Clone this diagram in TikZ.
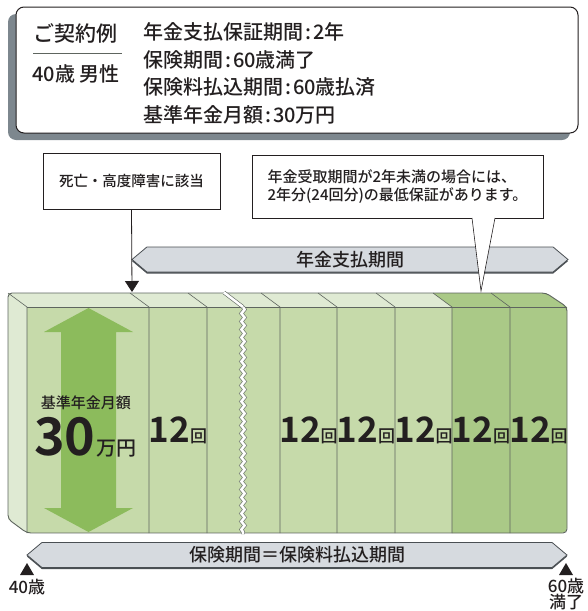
\documentclass[tikz,border=0pt]{standalone}
\usepackage{fontspec}
\setmainfont{Noto Sans CJK JP Medium}[BoldFont={Noto Sans CJK JP Bold}]
\usetikzlibrary{arrows.meta,shapes.symbols,shadows,decorations.pathmorphing}

\definecolor{ink}{HTML}{231F20}
\definecolor{shade}{HTML}{7D878E}
\definecolor{bandfill}{HTML}{D6DADF}
\definecolor{bandline}{HTML}{4A4F53}
\definecolor{leaf}{HTML}{C6DAAA}
\definecolor{leaflight}{HTML}{DFEAD3}
\definecolor{leafdark}{HTML}{AAC987}
\definecolor{arrowgreen}{HTML}{8CBB5C}
\definecolor{rim}{HTML}{5E655F}

\newcommand{\jfont}[1]{\fontsize{#1}{#1}\selectfont}
\newcommand{\sep}{\kern2pt:\kern2pt}

\begin{document}
\begin{tikzpicture}[x=1pt,y=-1pt,
	band/.style={shape=signal,signal to=east and west,signal pointer angle=80,
		fill=bandfill,draw=bandline,line width=0.8pt,minimum height=25pt,inner sep=0pt,
		drop shadow={shadow xshift=0pt,shadow yshift=-1.6pt,fill=bandline,opacity=1},
		text=ink,font=\jfont{18}},
	notebox/.style={shape=rectangle,draw=ink,fill=white,line width=0.6pt,inner sep=0pt,text=ink},
	count/.style={text=ink,inner sep=0pt},
	divider/.style={draw=rim,line width=0.6pt},
	age/.style={text=ink,align=center,inner sep=0pt,font=\fontsize{17}{16}\selectfont}]
	
	\useasboundingbox (0,0) rectangle (588,611);
	
	% contract box
	\node[shape=rectangle,draw=ink,line width=1pt,rounded corners=8pt,fill=white,
		minimum width=562pt,minimum height=126pt,
		drop shadow={shadow xshift=-8pt,shadow yshift=-7pt,fill=shade,opacity=1}] (plan) at (297,70) {};
	\node[count,font=\jfont{21}] (example) at (75.5,33) {ご契約例};
	\draw[rim,line width=0.8pt] (33,53) -- (122,53);
	\node[count,font=\jfont{20}] (insured) at (76,74) {40歳 男性};
	\node[count,font=\fontsize{20}{27.5}\selectfont,align=left,anchor=west] (terms) at (143,73.5)
		{年金支払保証期間\sep 2年\\保険期間\sep 60歳満了\\保険料払込期間\sep 60歳払済\\基準年金月額\sep 30万円};
	
	% notes
	\node[notebox,minimum width=177pt,minimum height=56pt,font=\jfont{14.5}] (event) at (131.5,181) {死亡・高度障害に該当};
	\node[notebox,minimum width=291pt,minimum height=63pt,align=left,font=\fontsize{15}{17.5}\selectfont] (guarantee) at (397.5,186.5)
		{年金受取期間が2年未満の場合には、\\2年分(24回分)の最低保証があります。};
	
	\node[band,minimum width=436pt] (payout) at (350,259.5) {年金支払期間};
	
	\coordinate (hit) at (132,292);
	\draw[ink,line width=0.8pt,-{Triangle[width=14pt,length=11pt]}] (event.south) -- (hit);
	
	\coordinate (pl) at (472,218);
	\coordinate (pr) at (495,218);
	\coordinate (ptip) at (481,291);
	\fill[white] ([yshift=0.8pt]pl) -- (ptip) -- ([yshift=0.8pt]pr) -- cycle;
	\draw[ink,line width=0.6pt] (pl) -- (ptip) -- (pr);
	
	% block
	\fill[leaflight] (8,293) -- (8,519) -- (27,533) -- (27,307) -- cycle;
	\fill[leaflight] (8,293) -- (433,293) -- (452,307) -- (27,307) -- cycle;
	\fill[leafdark] (433,293) -- (546,293) -- (567,307) -- (452,307) -- cycle;
	\fill[leaf] (27,307) rectangle (452,533);
	\fill[leafdark] (452,307) -- (567,307) [rounded corners=5pt] -- (567,533) [sharp corners] -- (452,533) -- cycle;
	\draw[rim,line width=0.9pt,rounded corners=4pt] (27,533) -- (8,519) -- (8,293) -- (546,293) -- (567,307) -- (567,533) -- cycle;
	\draw[divider] (27,307) -- (567,307);
	\foreach \x in {27,149,207,280,337,395,452,510}
		\draw[divider] (\x,533) -- (\x,307) -- (\x-19,293);
	\draw[rim,line width=0.6pt,double=white,double distance=2.6pt,decorate,
		decoration={snake,amplitude=1.6pt,segment length=8pt}] (243,307) -- (243,534);
	\draw[rim,line width=0.6pt,double=white,double distance=2.6pt] (224,292.5) -- (243,307);
	
	\fill[arrowgreen] (88.5,308) -- (133,332) -- (116,332) -- (116,508) -- (133,508) -- (88.5,532)
		-- (44,508) -- (61,508) -- (61,332) -- (44,332) -- cycle;
	\node[count,font=\jfont{15}] (base) at (86,403) {基準年金月額};
	\node[count,font=\bfseries\jfont{52},anchor=base] (amount) at (65,455) {30};
	\node[count,font=\jfont{20},anchor=base west] (unit) at (96,455) {万円};
	
	\foreach \x [count=\i] in {178,308.5,366,423.5,481,538.5}
		\node[count,anchor=base] (twelve\i) at (\x,442) {\bfseries\jfont{35}12\mdseries\jfont{17}回};
	
	\node[band,minimum width=540pt] (term) at (297,555) {保険期間＝保険料払込期間};
	
	% ages
	\foreach \x in {27,566}
		\fill[ink] (\x-7,575) -- (\x,563) -- (\x+7,575) -- cycle;
	\node[age] (start) at (27,587) {40歳};
	\node[age] (end) at (566,594) {60歳\\満了};
	
\end{tikzpicture}
\end{document}
